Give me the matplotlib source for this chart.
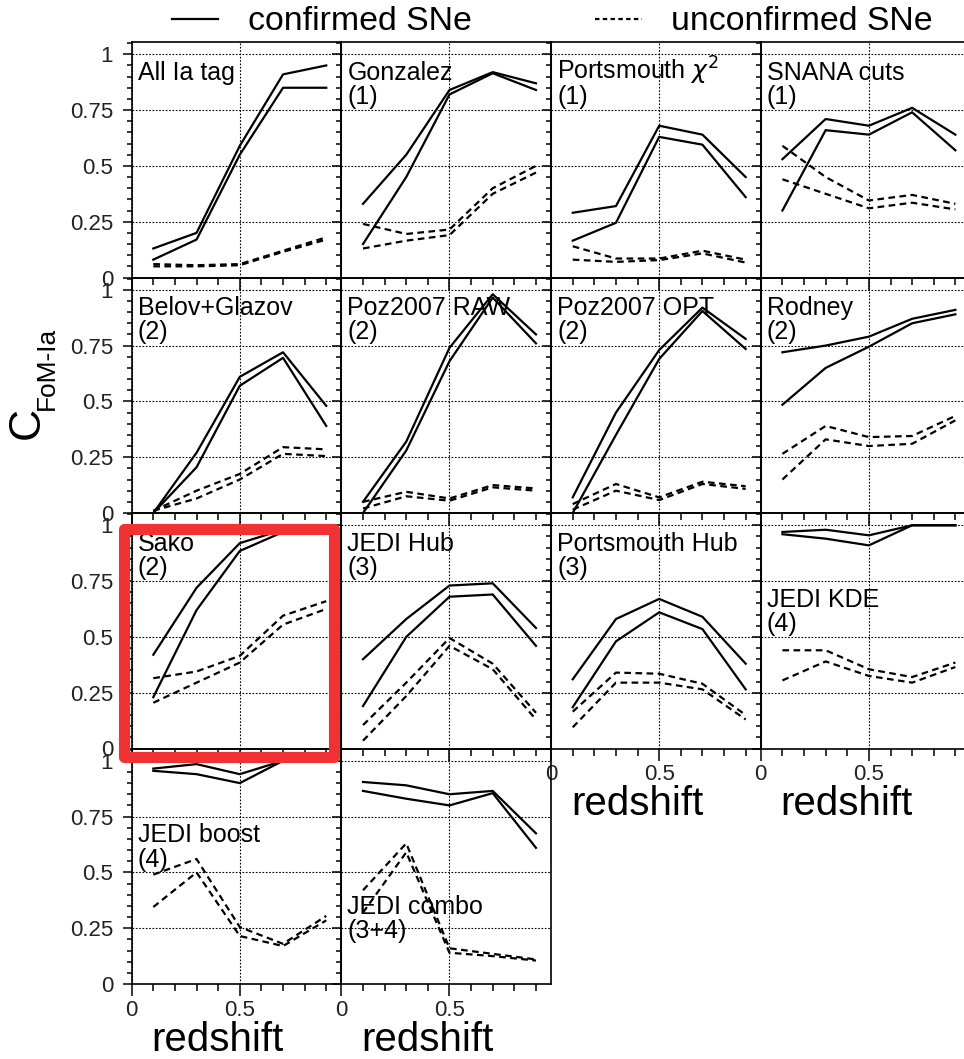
import matplotlib
matplotlib.use("Agg")
import matplotlib.pyplot as plt
from matplotlib.ticker import MultipleLocator, FuncFormatter
from matplotlib.lines import Line2D
from matplotlib.patches import Rectangle

plt.rcParams['font.family'] = ['Liberation Sans', 'DejaVu Sans']

# redshift bins
redshift = [0.1, 0.3, 0.5, 0.7, 0.9]

names = ["All Ia tag", "Gonzalez", "Portsmouth $\\chi^2$", "SNANA cuts",
         "Belov+Glazov", "Poz2007 RAW", "Poz2007 OPT", "Rodney",
         "Sako", "JEDI Hub", "Portsmouth Hub", "JEDI KDE",
         "JEDI boost", "JEDI combo"]
groups = ["", "(1)", "(1)", "(1)", "(2)", "(2)", "(2)", "(2)",
          "(2)", "(3)", "(3)", "(4)", "(4)", "(3+4)"]

# confirmed SNe (two solid curves per panel)
conf_hi = [[0.13, 0.20, 0.59, 0.91, 0.95],
           [0.33, 0.55, 0.84, 0.92, 0.87],
           [0.29, 0.32, 0.68, 0.64, 0.45],
           [0.53, 0.71, 0.68, 0.76, 0.64],
           [0.00, 0.27, 0.61, 0.72, 0.48],
           [0.05, 0.32, 0.74, 0.98, 0.80],
           [0.07, 0.45, 0.73, 0.92, 0.78],
           [0.72, 0.75, 0.79, 0.87, 0.91],
           [0.42, 0.72, 0.92, 0.98, 1.00],
           [0.40, 0.58, 0.73, 0.74, 0.54],
           [0.31, 0.58, 0.67, 0.59, 0.38],
           [0.97, 0.98, 0.955, 1.00, 1.00],
           [0.965, 0.985, 0.94, 1.00, 1.00],
           [0.905, 0.89, 0.85, 0.865, 0.675]]
conf_lo = [[0.08, 0.17, 0.55, 0.85, 0.85],
           [0.15, 0.45, 0.82, 0.915, 0.84],
           [0.165, 0.245, 0.63, 0.595, 0.36],
           [0.30, 0.66, 0.64, 0.74, 0.57],
           [0.00, 0.205, 0.57, 0.695, 0.39],
           [0.00, 0.28, 0.68, 0.965, 0.76],
           [0.00, 0.35, 0.69, 0.905, 0.735],
           [0.485, 0.65, 0.745, 0.85, 0.89],
           [0.23, 0.62, 0.885, 0.97, 0.99],
           [0.19, 0.50, 0.68, 0.69, 0.46],
           [0.185, 0.48, 0.61, 0.535, 0.265],
           [0.96, 0.94, 0.91, 1.00, 1.00],
           [0.955, 0.94, 0.90, 1.00, 1.00],
           [0.865, 0.83, 0.80, 0.855, 0.61]]

# unconfirmed SNe (two dashed curves per panel)
unconf_hi = [[0.06, 0.055, 0.06, 0.12, 0.18],
             [0.24, 0.195, 0.215, 0.40, 0.50],
             [0.14, 0.085, 0.085, 0.12, 0.08],
             [0.59, 0.45, 0.345, 0.37, 0.33],
             [0.01, 0.10, 0.175, 0.295, 0.285],
             [0.05, 0.095, 0.065, 0.125, 0.11],
             [0.04, 0.13, 0.07, 0.14, 0.12],
             [0.265, 0.39, 0.34, 0.345, 0.435],
             [0.315, 0.345, 0.415, 0.595, 0.66],
             [0.105, 0.295, 0.495, 0.38, 0.16],
             [0.165, 0.34, 0.335, 0.29, 0.15],
             [0.44, 0.44, 0.355, 0.32, 0.385],
             [0.49, 0.56, 0.255, 0.18, 0.305],
             [0.42, 0.63, 0.16, 0.135, 0.11]]
unconf_lo = [[0.05, 0.05, 0.055, 0.115, 0.17],
             [0.13, 0.165, 0.19, 0.375, 0.47],
             [0.08, 0.07, 0.078, 0.108, 0.067],
             [0.44, 0.375, 0.31, 0.335, 0.305],
             [0.01, 0.065, 0.15, 0.265, 0.255],
             [0.02, 0.075, 0.055, 0.115, 0.10],
             [0.015, 0.10, 0.058, 0.13, 0.108],
             [0.15, 0.33, 0.30, 0.31, 0.415],
             [0.205, 0.295, 0.385, 0.555, 0.625],
             [0.035, 0.235, 0.46, 0.355, 0.13],
             [0.095, 0.295, 0.295, 0.265, 0.13],
             [0.305, 0.39, 0.325, 0.295, 0.365],
             [0.345, 0.50, 0.215, 0.17, 0.285],
             [0.32, 0.59, 0.14, 0.125, 0.105]]

# baseline (data y) of the panel name, default near the top
label_y = {"JEDI KDE": 0.635, "JEDI boost": 0.634, "JEDI combo": 0.312}
line_step = 0.108

W, H = 964, 1059
fig = plt.figure(figsize=(W / 100, H / 100), dpi=100)
x0, y0 = 131.7, 42.0
pw, ph = 209.7, 235.5

dash = (0, (3, 2))
axes = []
for i, name in enumerate(names):
    r, c = i // 4, i % 4
    ax = fig.add_axes([(x0 + c * pw) / W, 1 - (y0 + (r + 1) * ph) / H, pw / W, ph / H])
    ax.set_facecolor('none')
    ax.plot(redshift, conf_hi[i], color='k', lw=1.6)
    ax.plot(redshift, conf_lo[i], color='k', lw=1.6)
    ax.plot(redshift, unconf_hi[i], color='k', lw=1.6, ls=dash)
    ax.plot(redshift, unconf_lo[i], color='k', lw=1.6, ls=dash)
    ax.set_xlim(0, 0.97)
    ax.set_ylim(0, 1.055)
    ax.xaxis.set_major_locator(MultipleLocator(0.5))
    ax.xaxis.set_minor_locator(MultipleLocator(0.1))
    ax.yaxis.set_major_locator(MultipleLocator(0.25))
    ax.yaxis.set_minor_locator(MultipleLocator(0.05))
    fmt = FuncFormatter(lambda v, p: f'{v:g}')
    ax.xaxis.set_major_formatter(fmt)
    ax.yaxis.set_major_formatter(fmt)
    ax.grid(True, which='major', color='k', ls=(0, (1.5, 1.5)), lw=0.8)
    for s in ax.spines.values():
        s.set_linewidth(1.2)
    bottom = i >= len(names) - 4
    ax.tick_params(axis='x', which='major', direction='out', length=8.5, width=1.1, pad=3,
                   labelsize=16, labelcolor='#222222', labelbottom=bottom)
    ax.tick_params(axis='x', which='minor', direction='out', length=5, width=1.1)
    ax.tick_params(axis='y', which='major', direction='out', length=6.8, width=1.1, pad=6.5,
                   labelsize=16, labelcolor='#222222', labelleft=(c == 0))
    ax.tick_params(axis='y', which='minor', direction='out', length=3.3, width=1.1)
    ly = label_y.get(name, 0.886)
    ax.text(0.028, ly, name, fontsize=18, ha='left', va='baseline')
    if groups[i]:
        ax.text(0.028, ly - line_step, groups[i], fontsize=18, ha='left', va='baseline')
    if bottom:
        ax.set_xlabel('redshift', fontsize=29)
        ax.xaxis.set_label_coords(0.41, -0.155)
    axes.append(ax)

# y axis title
fig.text(27 / W, 1 - 423 / H, 'C', fontsize=32, rotation=90, ha='center', va='center')
fig.text(47 / W, 1 - 410 / H, 'FoM-Ia', fontsize=19, rotation=90, ha='center', va='bottom')

handles = [Line2D([], [], color='k', lw=1.6), Line2D([], [], color='k', lw=1.6, ls=(0, (2, 1.5)))]
fig.legend(handles, ['confirmed SNe', 'unconfirmed SNe'], loc='center left',
           bbox_to_anchor=(172 / W, 1 - 22 / H), ncol=2, frameon=False, fontsize=24.4,
           handlelength=1.36, handletextpad=0.88, columnspacing=3.65, borderpad=0,
           borderaxespad=0)

# highlight around the Sako panel
sako = axes[names.index("Sako")]
box = Rectangle((-0.038, -0.034), 1.005, 0.968, transform=sako.transAxes, fill=False,
                ec='#f03232', lw=8, joinstyle='round', zorder=10)
fig.add_artist(box)

fig.savefig('out.png', dpi=100, facecolor='white')
